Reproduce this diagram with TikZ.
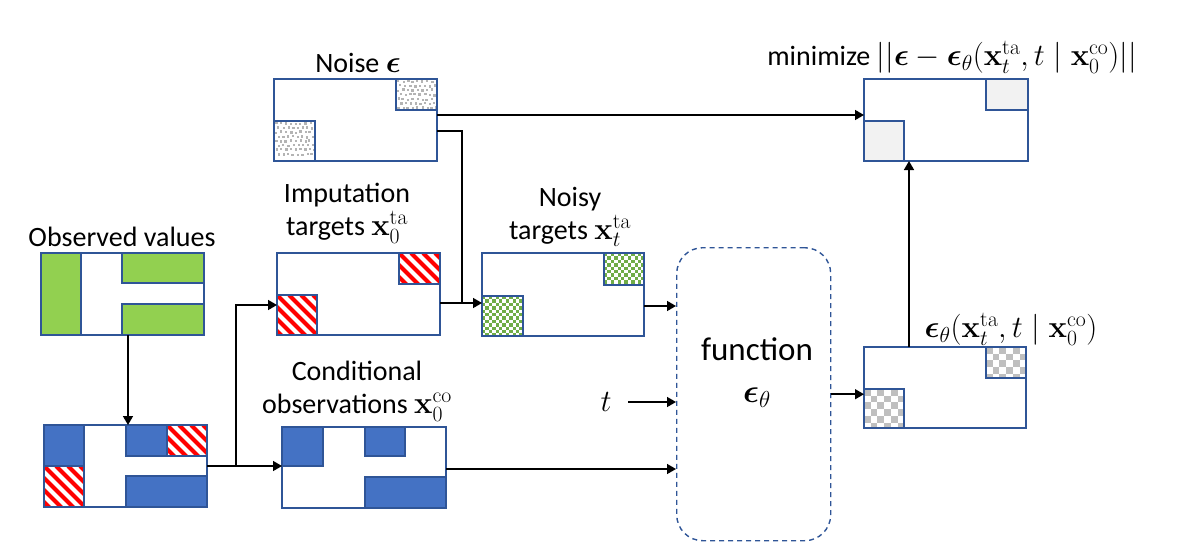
\RequirePackage{fix-cm}
\documentclass[tikz,border=0pt]{standalone}
\usepackage{amsmath}
\usepackage[no-math]{fontspec}
\setmainfont{Carlito}
\usetikzlibrary{arrows.meta}

\definecolor{edgeblue}{HTML}{2F5597}
\definecolor{fillblue}{HTML}{4472C4}
\definecolor{obsgreen}{HTML}{92D050}
\definecolor{chkgreen}{HTML}{70AD47}
\definecolor{hatchred}{HTML}{FF0000}
\definecolor{noisegrey}{HTML}{B4B4B4}
\definecolor{chkgrey}{HTML}{BFBFBF}
\definecolor{lossgrey}{HTML}{F2F2F2}

% maths set a little larger than the surrounding text
\newcommand\mth[1]{{\fontsize{31}{33}\selectfont$#1$}}

% plain coloured cell with the panel outline colour
\newcommand\solidcell[5]{\draw[cellline, fill=#5] (#1,#2) rectangle (#3,#4);}
% red diagonal stripes
\newcommand\hatchcell[4]{%
  \begin{scope}
    \clip (#1,#2) rectangle (#3,#4);
    \fill[white] (#1,#2) rectangle (#3,#4);
    \foreach \k in {-48,-36,...,48}
      \draw[hatchred, line width=4.2pt] ({#1+\k},#2) -- ++(60,60);
  \end{scope}
  \draw[cellline] (#1,#2) rectangle (#3,#4);}
% checkerboard: corners, square size, colour
\newcommand\checkcell[6]{%
  \begin{scope}
    \clip (#1,#2) rectangle (#3,#4);
    \fill[white] (#1,#2) rectangle (#3,#4);
    \foreach \i in {0,...,14}
      \foreach \j in {0,...,14} {
        \pgfmathtruncatemacro\cellpar{mod(\i+\j,2)}
        \ifnum\cellpar=0
          \fill[#6] ({#1+\i*#5},{#2+\j*#5}) rectangle ++(#5,#5);
        \fi}
  \end{scope}
  \draw[cellline] (#1,#2) rectangle (#3,#4);}
% scattered grey dots
\newcommand\noisecell[4]{%
  \begin{scope}
    \clip (#1,#2) rectangle (#3,#4);
    \fill[white] (#1,#2) rectangle (#3,#4);
    \foreach \i in {0,...,9}
      \foreach \j in {0,...,7}
        \fill[noisegrey] ({#1+1.2+\i*4.8+mod(\j,2)*2.4+0.8*rand},{#2+1.2+\j*4.4+0.8*rand}) rectangle ++(2.4,2.4);
  \end{scope}
  \draw[cellline] (#1,#2) rectangle (#3,#4);}

\begin{document}
\begin{tikzpicture}[x=1pt, y=-1pt,
  panel/.style={draw=edgeblue, line width=1.4pt, fill=white, rectangle,
    inner sep=0pt, outer sep=0pt, anchor=north west,
    minimum width=163pt, minimum height=82pt},
  cellline/.style={draw=edgeblue, line width=1.4pt},
  lbl/.style={font=\fontsize{28}{33}\selectfont, align=center, inner sep=0pt},
  line/.style={draw=black, line width=1.5pt},
  arr/.style={line, -{Triangle[length=9pt,width=10pt]}}]
\pgfmathsetseed{17}
\useasboundingbox (0,0) rectangle (1193,557);

% ---- panels ----
\node[panel] (obs) at (41,253) {};
\node[panel] (mix) at (44,425) {};
\node[panel] (noise) at (274,79) {};
\node[panel] (imp) at (277,253) {};
\node[panel, minimum width=162pt, minimum height=83pt] (noisy) at (482,253) {};
\node[panel, minimum width=164pt, minimum height=81pt] (cond) at (282,427) {};
\node[panel, minimum width=162pt, minimum height=81pt] (out) at (864,347) {};
\node[panel, minimum width=164pt] (loss) at (864,79) {};
\node[draw=edgeblue, line width=1.4pt, dash pattern=on 5pt off 4pt,
  rounded corners=26pt, rectangle, anchor=north west, inner sep=0pt,
  minimum width=154pt, minimum height=293pt] (func) at (676,247) {};

% ---- cells ----
\solidcell{41}{253}{81}{335}{obsgreen}
\solidcell{122}{253}{204}{283}{obsgreen}
\solidcell{122}{304}{204}{335}{obsgreen}

\solidcell{44}{425}{84}{466}{fillblue}
\hatchcell{44}{466}{84}{507}
\solidcell{126}{425}{167}{456}{fillblue}
\hatchcell{167}{425}{207}{456}
\solidcell{126}{476}{207}{507}{fillblue}

\noisecell{396}{79}{437}{110}
\noisecell{274}{121}{315}{161}

\hatchcell{399}{253}{440}{284}
\hatchcell{277}{295}{317}{335}

\checkcell{604}{253}{644}{285}{3.4}{chkgreen}
\checkcell{482}{296}{523}{336}{3.4}{chkgreen}

\solidcell{282}{427}{323}{466}{fillblue}
\solidcell{365}{427}{405}{456}{fillblue}
\solidcell{365}{477}{446}{508}{fillblue}

\checkcell{986}{347}{1026}{378}{6.7}{chkgrey}
\checkcell{864}{389}{904}{428}{6.7}{chkgrey}

\solidcell{986}{79}{1028}{110}{lossgrey}
\solidcell{864}{121}{904}{161}{lossgrey}

% ---- labels ----
\node[lbl] (lobs) at (122,237) {Observed values};
\node[lbl] (lnoise) at (358,63) {Noise \mth{\boldsymbol{\epsilon}}};
\node[lbl] (limp) at (347,213) {Imputation\\targets \mth{\mathbf{x}_0^{\mathrm{ta}}}};
\node[lbl] (lnoisy) at (570,217) {Noisy\\targets \mth{\mathbf{x}_t^{\mathrm{ta}}}};
\node[lbl] (lcond) at (357,391) {Conditional\\observations \mth{\mathbf{x}_0^{\mathrm{co}}}};
\node[lbl, font=\fontsize{33}{40}\selectfont] (lfunc) at (757,373) {function\\[2pt]$\boldsymbol{\epsilon}_\theta$};
\node[lbl] (lout) at (1011,329) {\mth{\boldsymbol{\epsilon}_\theta(\mathbf{x}_t^{\mathrm{ta}}, t \mid \mathbf{x}_0^{\mathrm{co}})}};
\node[lbl] (lloss) at (952,57) {minimize \mth{||\boldsymbol{\epsilon} - \boldsymbol{\epsilon}_\theta(\mathbf{x}_t^{\mathrm{ta}}, t \mid \mathbf{x}_0^{\mathrm{co}})||}};
\node[lbl, font=\fontsize{31}{36}\selectfont] (tv) at (606,402) {$t$};

% ---- connectors ----
\coordinate (a1) at ([xshift=5.5pt]obs.south);
\draw[arr] (a1) -- (a1 |- mix.north);

\draw[arr] (mix.east) -- (mix.east -| cond.west);
\coordinate (b1) at ([xshift=29pt]mix.east);
\draw[arr] (b1) |- ([yshift=-11pt]imp.west);

\coordinate (j1) at ([xshift=22pt, yshift=-9pt]imp.east);
\draw[line] ([yshift=-9pt]imp.east) -- (j1);
\draw[line] ([yshift=-11pt]noise.east) -| (j1);
\draw[arr] (j1) -- (j1 -| noisy.west);

\draw[arr] ([yshift=5pt]noise.east) -- ([yshift=5pt]loss.west);

\coordinate (n1) at ([yshift=-11.5pt]noisy.east);
\draw[arr] (n1) -- (n1 -| func.west);

\draw[arr] ([xshift=22pt]tv.center) -- (tv.center -| func.west);

\coordinate (c1) at ([yshift=-1.5pt]cond.east);
\draw[arr] (c1) -- (c1 -| func.west);

\draw[arr] (func.east) -- (func.east -| out.west);

\coordinate (o1) at ([xshift=45pt]out.north west);
\draw[arr] (o1) -- (o1 |- loss.south);
\end{tikzpicture}
\end{document}
